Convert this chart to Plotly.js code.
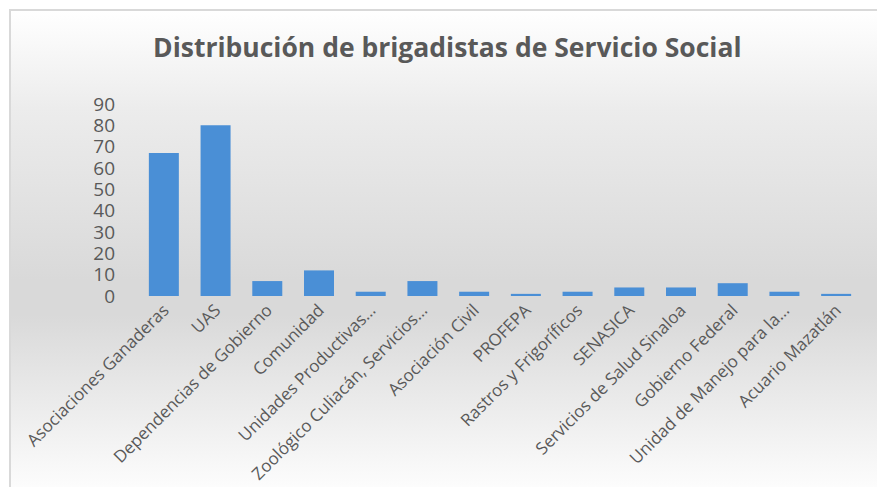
<!DOCTYPE html>
<html>
<head>
<meta charset="utf-8">
<script src="https://cdn.plot.ly/plotly-3.0.1.min.js"></script>
<style>
  html, body { margin: 0; padding: 0; background: #ffffff; }
  #wrap { position: relative; width: 877px; height: 487px; overflow: hidden; }
  #bg { position: absolute; left: 9px; top: 9px; width: 880px; height: 490px;
        border-left: 2px solid #d9d9d9; border-top: 2px solid #d9d9d9;
        background: linear-gradient(to bottom, #ffffff 0%, #ececec 20%, #d9d9d9 55%, #d9d9d9 62%, #ffffff 100%); }
  #chart { position: absolute; left: 0; top: 0; width: 877px; height: 487px; }
</style>
</head>
<body>
<div id="wrap"><div id="bg"></div><div id="chart"></div></div>
<script>
const categories = [
  "Asociaciones Ganaderas",
  "UAS",
  "Dependencias de Gobierno",
  "Comunidad",
  "Unidades Productivas…",
  "Zoológico Culiacán, Servicios…",
  "Asociación Civil",
  "PROFEPA",
  "Rastros y Frigoríficos",
  "SENASICA",
  "Servicios de Salud Sinaloa",
  "Gobierno Federal",
  "Unidad de Manejo para la…",
  "Acuario Mazatlán"
];
const brigadistas = [67, 80, 7, 12, 2, 7, 2, 1, 2, 4, 4, 6, 2, 1];
const yTicks = [0, 10, 20, 30, 40, 50, 60, 70, 80, 90];

Plotly.newPlot('chart', [{
  type: 'bar',
  x: categories,
  y: brigadistas,
  marker: { color: '#4a8fd6' },
  hoverinfo: 'x+y'
}], {
  width: 877, height: 487,
  margin: { l: 138, r: 15, t: 104, b: 191 },
  paper_bgcolor: 'rgba(0,0,0,0)',
  plot_bgcolor: 'rgba(0,0,0,0)',
  bargap: 0.42,
  showlegend: false,
  title: {
    text: 'Distribución de brigadistas de Servicio Social',
    font: { family: 'Open Sans', size: 26.5, color: '#595959', weight: 'bold' },
    xref: 'container', x: 0.51, xanchor: 'center',
    yref: 'container', y: 1 - 48/487, yanchor: 'middle'
  },
  xaxis: {
    tickangle: -45,
    tickfont: { family: 'Open Sans', size: 17, color: '#595959' },
    showgrid: false, showline: false, zeroline: false, ticks: '',
    automargin: false
  },
  yaxis: {
    range: [0, 90],
    tickvals: yTicks,
    tickfont: { family: 'Open Sans', size: 19, color: '#595959' },
    showgrid: false, showline: false, zeroline: false, ticks: '',
    ticklabelstandoff: 22,
    automargin: false
  }
}, { displayModeBar: false, staticPlot: true });
</script>
</body>
</html>
